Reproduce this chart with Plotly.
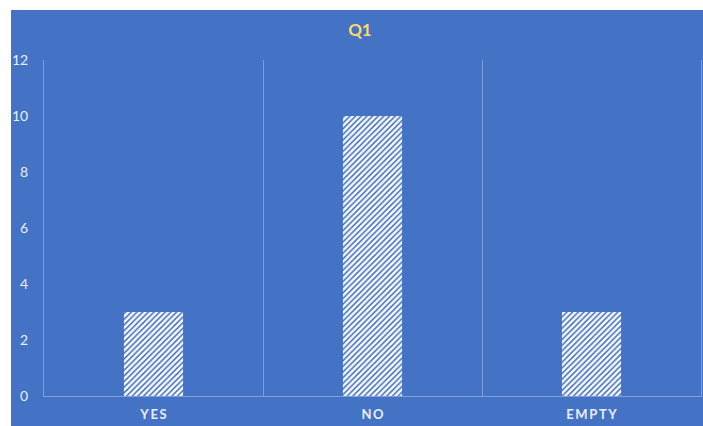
import plotly.graph_objects as go

# Survey answers for question Q1
categories = ["YES", "NO", "EMPTY"]
counts = [3, 10, 3]
y_ticks = [0, 2, 4, 6, 8, 10, 12]

BLUE = "#4472C4"
LIGHT = "rgba(255,255,255,0.32)"
TEXT = "#E9EEF8"


def spaced(s):
    # widen the caption letters with thin spaces
    return "\u2009".join(s)


fig = go.Figure(
    go.Bar(
        x=categories,
        y=counts,
        width=0.27,
        marker=dict(
            color="white",
            line=dict(width=0),
            pattern=dict(shape="/", bgcolor="white", fgcolor=BLUE,
                         size=4, solidity=0.4, fillmode="replace"),
        ),
        hoverinfo="x+y",
    )
)

fig.update_layout(
    width=703,
    height=426,
    margin=dict(l=44, r=2, t=60, b=30),
    paper_bgcolor=BLUE,
    plot_bgcolor="rgba(0,0,0,0)",
    showlegend=False,
    title=dict(
        text="<b>Q1</b>",
        x=0.512,
        xanchor="center",
        y=0.93,
        yanchor="middle",
        font=dict(family="Lato", size=17, color="#FFD966"),
    ),
    font=dict(family="Lato", color=TEXT),
    shapes=[
        # white frame strips outside the chart area
        dict(type="rect", xref="paper", yref="paper",
             x0=-0.08, x1=(11 - 44) / 657, y0=-0.2, y1=1.3,
             fillcolor="white", line=dict(width=0), layer="above"),
        dict(type="rect", xref="paper", yref="paper",
             x0=-0.08, x1=1.01, y0=(396 - 10) / 336, y1=1.3,
             fillcolor="white", line=dict(width=0), layer="above"),
    ],
)

fig.update_xaxes(
    type="category",
    tickmode="array",
    tickvals=categories,
    ticktext=[f"<b>{spaced(c)}</b>" for c in categories],
    tickson="boundaries",
    showgrid=True,
    gridcolor=LIGHT,
    gridwidth=1,
    showline=True,
    linecolor=LIGHT,
    linewidth=1,
    ticks="",
    ticklabelstandoff=6,
    tickfont=dict(family="Lato", size=13, color=TEXT),
    range=[-0.5, 2.5],
)

fig.update_yaxes(
    range=[0, 12],
    tickvals=y_ticks,
    showgrid=False,
    zeroline=False,
    showline=True,
    mirror=True,
    linecolor=LIGHT,
    linewidth=1,
    ticks="",
    ticklabelstandoff=12,
    tickfont=dict(family="Lato", size=14, color=TEXT),
)

fig.write_html("out.html")
